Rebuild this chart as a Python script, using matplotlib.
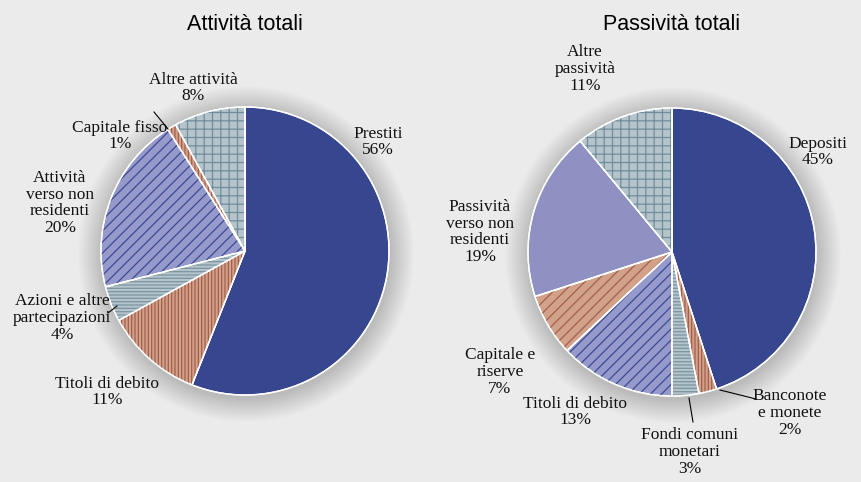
import matplotlib
matplotlib.use("Agg")
import matplotlib.pyplot as plt
from matplotlib.patches import Wedge, Circle

# --- data ---
att_labels = ["Prestiti", "Titoli di debito", "Azioni e altre\npartecipazioni",
              "Attività\nverso non\nresidenti", "Capitale fisso", "Altre attività"]
att_values = [56, 11, 4, 20, 1, 8]

pas_labels = ["Depositi", "Banconote\ne monete", "Fondi comuni\nmonetari",
              "Titoli di debito", "Capitale e\nriserve", "Passività\nverso non\nresidenti",
              "Altre\npassività"]
pas_values = [45, 2, 3, 13, 7, 19, 11]

titles = ["Attività totali", "Passività totali"]

# --- styles ---
W, H = 862, 482
BG = "#ebebeb"
BLUE = "#36468f"
LAV = "#959acb"
LAV2 = "#8f91c2"
BROWN = "#d2a18a"
GREYBL = "#b5c3cb"
HBROWN = "#a45f4d"
HBLUE = "#3c4a96"
HGREY = "#7a95a3"

# (facecolor, hatch, hatch colour)
att_style = [(BLUE, None, None), (BROWN, "|||||", HBROWN), (GREYBL, "-----", HGREY),
             (LAV, "///", HBLUE), (BROWN, "|||||", HBROWN), (GREYBL, "++", "#6f8e9c")]
pas_style = [(BLUE, None, None), (BROWN, "|||||", HBROWN), (GREYBL, "-----", HGREY),
             (LAV, "///", HBLUE), (BROWN, "///", HBROWN), (LAV2, None, None),
             (GREYBL, "++", "#6f8e9c")]

# label centres in pixels from top-left, and optional leader lines
att_pos = [(378, 142), (107, 392), (62, 318), (60, 203), (120, 136), (193, 88)]
att_lines = {2: ((108, 313), (117, 306)), 4: ((154, 112), (168, 129))}
pas_pos = [(818, 152), (790, 413), (690, 452), (575, 412), (500, 372), (480, 232), (585, 69)]
pas_lines = {1: ((720, 390), (756, 399)), 2: ((689, 398), (693, 422))}

centers = [(245, 251), (672, 252)]
radius = 144

plt.rcParams["hatch.linewidth"] = 0.9
fig = plt.figure(figsize=(W / 100, H / 100), dpi=100, facecolor=BG)
ax = fig.add_axes([0, 0, 1, 1])
ax.set_xlim(0, W)
ax.set_ylim(0, H)
ax.set_aspect("equal")
ax.axis("off")


def draw(values, labels, styles, pos, lines, center, title):
    cx, cy = center[0], H - center[1]
    # soft shadow
    for k in range(24, 0, -1):
        ax.add_patch(Circle((cx + 1, cy - 3), radius + k, color="black",
                            alpha=0.008, lw=0, zorder=1))
    wedges, _ = ax.pie(values, startangle=90, counterclock=False, radius=radius,
                       center=(cx, cy), colors=[s[0] for s in styles],
                       wedgeprops=dict(edgecolor="white", linewidth=1.0))
    for w, (fc, hatch, hc) in zip(wedges, styles):
        w.set_zorder(3)
        if hatch:
            ax.add_patch(Wedge(w.center, w.r, w.theta1, w.theta2, facecolor="none",
                               edgecolor=hc, lw=0, hatch=hatch, zorder=4))
        ax.add_patch(Wedge(w.center, w.r, w.theta1, w.theta2, facecolor="none",
                           edgecolor="white", lw=1.0, zorder=5))
    for i, (lab, v) in enumerate(zip(labels, values)):
        x, y = pos[i]
        ax.text(x, H - y, f"{lab}\n{v}%", ha="center", va="center", fontsize=12.5,
                family=["Liberation Serif", "DejaVu Serif"], linespacing=1.05,
                color="#111111", zorder=6)
    for (x0, y0), (x1, y1) in lines.values():
        ax.plot([x0, x1], [H - y0, H - y1], color="black", lw=0.8, zorder=6)
    ax.text(center[0], H - 25, title, ha="center", va="center", fontsize=15.5,
            family=["Liberation Sans Narrow", "Liberation Sans"], color="black")


draw(att_values, att_labels, att_style, att_pos, att_lines, centers[0], titles[0])
draw(pas_values, pas_labels, pas_style, pas_pos, pas_lines, centers[1], titles[1])

ax.set_xlim(0, W)
ax.set_ylim(0, H)
fig.savefig("out.png", dpi=100, facecolor=BG)
